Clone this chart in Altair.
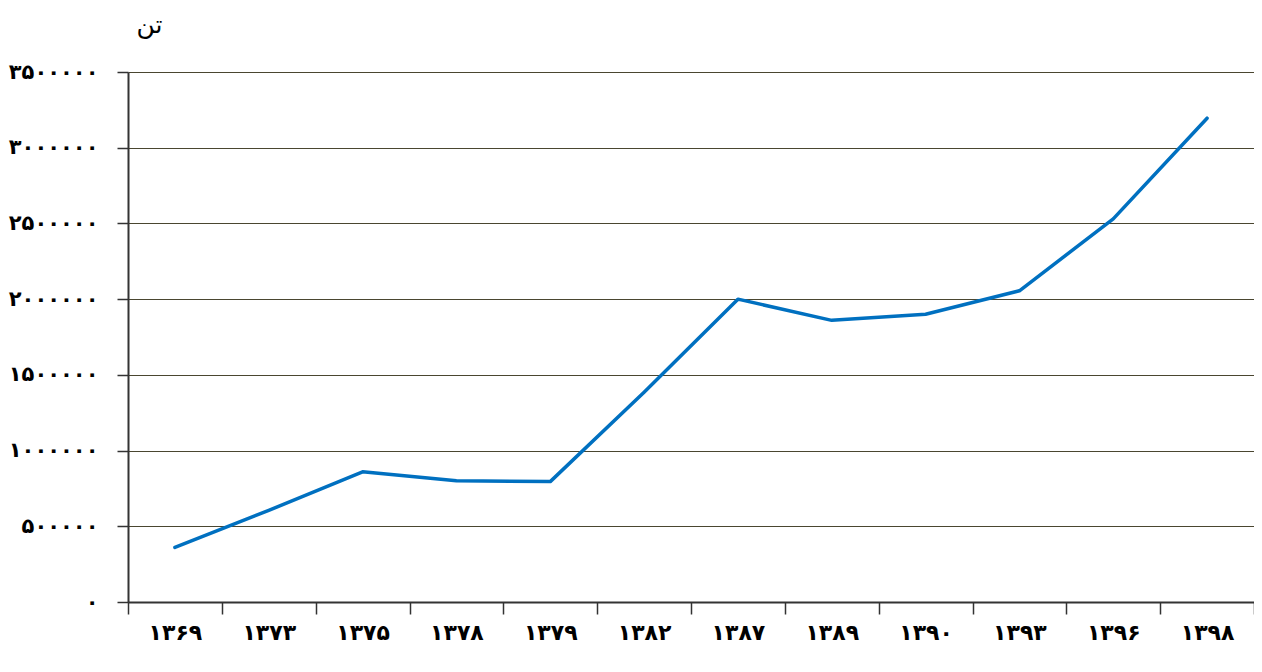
import altair as alt
import pandas as pd

years = ['۱۳۶۹', '۱۳۷۳', '۱۳۷۵', '۱۳۷۸', '۱۳۷۹', '۱۳۸۲',
         '۱۳۸۷', '۱۳۸۹', '۱۳۹۰', '۱۳۹۳', '۱۳۹۶', '۱۳۹۸']
tons = [360000, 605000, 860000, 800000, 795000, 1385000,
        2000000, 1860000, 1900000, 2055000, 2530000, 3195000]

y_ticks = [0, 500000, 1000000, 1500000, 2000000, 2500000, 3000000, 3500000]
y_tick_labels = ['۰', '۵۰۰۰۰۰', '۱۰۰۰۰۰۰', '۱۵۰۰۰۰۰',
                 '۲۰۰۰۰۰۰', '۲۵۰۰۰۰۰', '۳۰۰۰۰۰۰', '۳۵۰۰۰۰۰']
unit_label = 'تن'

df = pd.DataFrame({'year': years, 'tons': tons})

label_expr = ''
for v, lab in zip(y_ticks, y_tick_labels):
    label_expr += f"datum.value == {v} ? '{lab}' : "
label_expr += "''"

FONT = 'DejaVu Sans'

chart = alt.Chart(df).mark_line(
    color='#0070C0', strokeWidth=3.5, interpolate='linear',
    strokeJoin='round', strokeCap='round'
).encode(
    x=alt.X('year:O', sort=None,
            scale=alt.Scale(type='band', paddingInner=0, paddingOuter=0),
            axis=alt.Axis(title=None, labelAngle=0, tickBand='extent',
                          labelFont=FONT, labelFontSize=22, labelFontWeight='bold',
                          labelColor='#000000', labelPadding=8, labelBaseline='top',
                          tickSize=12, tickColor='#333333', tickWidth=1.5,
                          domainColor='#333333', domainWidth=2, grid=False)),
    y=alt.Y('tons:Q',
            scale=alt.Scale(domain=[0, 3500000], nice=False),
            axis=alt.Axis(values=y_ticks, labelExpr=label_expr,
                          title=unit_label, titleAngle=0, titleAlign='left',
                          titleBaseline='alphabetic', titleX=8, titleY=-40,
                          titleFont=FONT, titleFontSize=25, titleFontWeight='normal',
                          titleColor='#000000',
                          labelFont=FONT, labelFontSize=21, labelFontWeight='bold',
                          labelColor='#000000', labelPadding=19,
                          tickSize=11, tickColor='#333333', tickWidth=1.5,
                          domainColor='#333333', domainWidth=2,
                          grid=True, gridColor='#4a4630', gridWidth=1))
).properties(
    width=1126, height=530,
    autosize=alt.AutoSizeParams(type='none'),
    padding={'left': 120, 'top': 64, 'right': 0, 'bottom': 61}
).configure_view(stroke=None).configure(background='white')

chart.save('out.html', embed_options={'renderer': 'svg', 'actions': False})
